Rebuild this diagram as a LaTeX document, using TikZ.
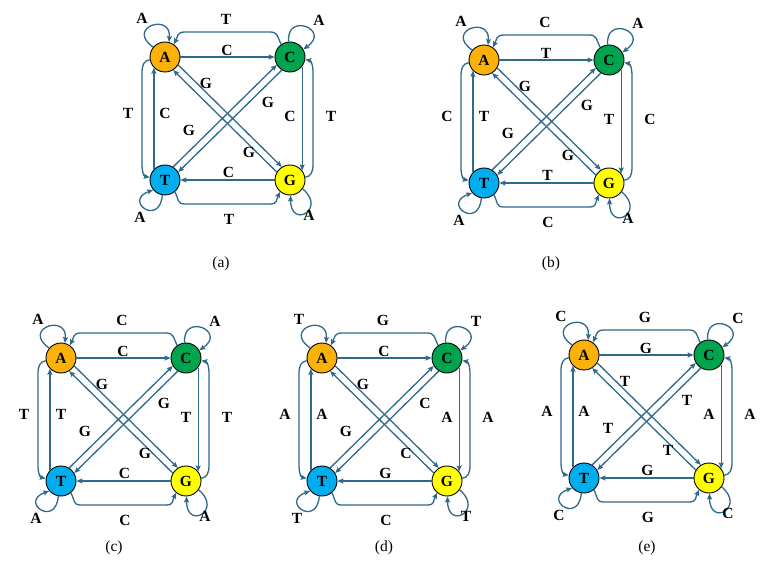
\documentclass[tikz,border=0pt]{standalone}
\usepackage{fontspec}
\setmainfont{Liberation Serif}
\usetikzlibrary{calc,arrows.meta}
\definecolor{cA}{RGB}{250,178,8}
\definecolor{cC}{RGB}{0,163,78}
\definecolor{cT}{RGB}{0,174,239}
\definecolor{cG}{RGB}{255,255,0}
\definecolor{ec}{RGB}{47,105,140}
\tikzset{
 nd/.style={circle,draw=black,line width=0.9pt,minimum size=30pt,inner sep=0pt,font=\bfseries\fontsize{15.5}{17}\selectfont},
 conn/.style={draw=ec,line width=1.3pt,-{Stealth[length=6pt,width=5pt,inset=1pt]}},
 lab/.style={font=\bfseries\fontsize{15.5}{17}\selectfont,inner sep=0pt},
 captext/.style={font=\fontsize{15.5}{17}\selectfont,inner sep=0pt}
}
\newcommand\dnapanel[3]{%
\begin{scope}[shift={(#2,#3)}]
\node[nd,fill=cA] (#1A) at (0,0) {A};
\node[nd,fill=cC] (#1C) at (125,0) {C};
\node[nd,fill=cT] (#1T) at (0,-123) {T};
\node[nd,fill=cG] (#1G) at (125,-123) {G};
% self loops
\draw[conn] (#1A.140) .. controls +(145:34pt) and +(85:30pt) .. (#1A.75);
\draw[conn] (#1C.95) .. controls +(95:30pt) and +(35:34pt) .. (#1C.30);
\draw[conn] (#1T.-100) .. controls +(-95:32pt) and +(-160:32pt) .. (#1T.-140);
\draw[conn] (#1G.-35) .. controls +(-40:32pt) and +(-90:34pt) .. (#1G.-88);
\node[lab] (#1lA) at ($(#1A)+(-23,39)$) {\dnLo};
\node[lab] (#1lC) at ($(#1C)+(29,37)$) {\dnLo};
\node[lab] (#1lT) at ($(#1T)+(-25,-37)$) {\dnLo};
\node[lab] (#1lG) at ($(#1G)+(19,-35)$) {\dnLo};
% straight sides
\draw[conn] (#1A) -- (#1C);
\draw[conn] (#1G) -- (#1T);
\draw[conn] (#1C.-38) -- (#1G.38);
\draw[conn] (#1T.136) -- (#1A.-136);
\node[lab] (#1lts) at ($(#1A)+(62,7)$) {\dnLts};
\node[lab] (#1lbs) at ($(#1T)+(63.5,8)$) {\dnLbs};
\node[lab] (#1lrs) at ($(#1C)+(0,-59)$) {\dnLrs};
\node[lab] (#1lls) at ($(#1A)+(0,-56)$) {\dnLls};
% outer curves
\draw[conn] (#1C.125) .. controls +(-4,8) and +(8,0) .. ($(#1C)+(-20,25)$) -- ($(#1A)+(20,25)$) .. controls +(-8,0) and +(4,8) .. (#1A.55);
\draw[conn] (#1G.10) .. controls +(6,1) and +(0,-8) .. ($(#1G)+(23,16)$) -- ($(#1C)+(23,-16)$) .. controls +(0,8) and +(6,-1) .. (#1C.-10);
\draw[conn] (#1A.190) .. controls +(-6,-1) and +(0,8) .. ($(#1A)+(-23,-16)$) -- ($(#1T)+(-23,16)$) .. controls +(0,-8) and +(-6,1) .. (#1T.170);
\draw[conn] (#1T.-50) .. controls +(4,-8) and +(-8,0) .. ($(#1T)+(20,-24)$) -- ($(#1G)+(-20,-24)$) .. controls +(8,0) and +(-4,-8) .. (#1G.-130);
\node[lab] (#1ltc) at ($(#1A)+(61,38)$) {\dnLtc};
\node[lab] (#1lbc) at ($(#1T)+(64,-39)$) {\dnLbc};
\node[lab] (#1llc) at ($(#1A)+(-37,-56)$) {\dnLlc};
\node[lab] (#1lrc) at ($(#1C)+(41,-59)$) {\dnLrc};
% diagonals
\draw[conn] (#1A.-31) -- (#1G.122);
\draw[conn] (#1G.149) -- (#1A.-58);
\draw[conn] (#1C.238) -- (#1T.31);
\draw[conn] (#1T.58) -- (#1C.211);
\node[lab] (#1lag) at ($(#1A)+(41,-26)$) {\dnLag};
\node[lab] (#1lga) at ($(#1A)+(84,-95)$) {\dnLga};
\node[lab] (#1lct) at ($(#1C)+(-22,-45)$) {\dnLct};
\node[lab] (#1ltd) at ($(#1C)+(-101,-73)$) {\dnLtcd};
\end{scope}}
\begin{document}
\begin{tikzpicture}[x=1pt,y=1pt]
\fill[white] (0,0) rectangle (773,576);
\useasboundingbox (0,0) rectangle (773,576);
% (a)
\def\dnLo{A}\def\dnLtc{T}\def\dnLts{C}\def\dnLrs{C}\def\dnLrc{T}\def\dnLbs{C}\def\dnLbc{T}\def\dnLls{C}\def\dnLlc{T}\def\dnLag{G}\def\dnLga{G}\def\dnLct{G}\def\dnLtcd{G}
\dnapanel{a}{165}{519}
% (b)
\def\dnLo{A}\def\dnLtc{C}\def\dnLts{T}\def\dnLrs{T}\def\dnLrc{C}\def\dnLbs{T}\def\dnLbc{C}\def\dnLls{T}\def\dnLlc{C}\def\dnLag{G}\def\dnLga{G}\def\dnLct{G}\def\dnLtcd{G}
\dnapanel{b}{484}{516}
% (c)
\def\dnLo{A}\def\dnLtc{C}\def\dnLts{C}\def\dnLrs{T}\def\dnLrc{T}\def\dnLbs{C}\def\dnLbc{C}\def\dnLls{T}\def\dnLlc{T}\def\dnLag{G}\def\dnLga{G}\def\dnLct{G}\def\dnLtcd{G}
\dnapanel{c}{61}{218}
% (d)
\def\dnLo{T}\def\dnLtc{G}\def\dnLts{C}\def\dnLrs{A}\def\dnLrc{A}\def\dnLbs{G}\def\dnLbc{C}\def\dnLls{A}\def\dnLlc{A}\def\dnLag{G}\def\dnLga{C}\def\dnLct{C}\def\dnLtcd{G}
\dnapanel{d}{322}{218}
% (e)
\def\dnLo{C}\def\dnLtc{G}\def\dnLts{G}\def\dnLrs{A}\def\dnLrc{A}\def\dnLbs{G}\def\dnLbc{G}\def\dnLls{A}\def\dnLlc{A}\def\dnLag{T}\def\dnLga{T}\def\dnLct{T}\def\dnLtcd{T}
\dnapanel{e}{584}{221}
% captions
\node[captext] (capa) at (221,312) {(a)};
\node[captext] (capb) at (551,312) {(b)};
\node[captext] (capc) at (114,28) {(c)};
\node[captext] (capd) at (384,28) {(d)};
\node[captext] (cape) at (647,28) {(e)};
\end{tikzpicture}
\end{document}
